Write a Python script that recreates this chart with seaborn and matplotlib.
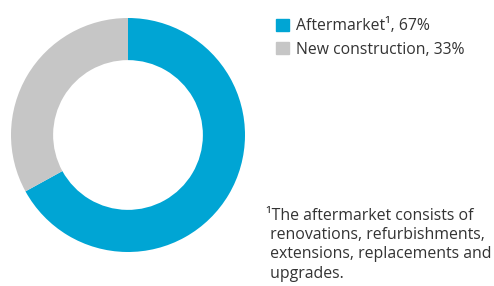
import matplotlib
matplotlib.use("Agg")
import matplotlib.pyplot as plt
import matplotlib.patches as mpatches
import seaborn as sns

# data
segments = ["Aftermarket\u00b9", "New construction"]
shares = [67, 33]
colors = ["#00A5D4", "#C6C6C6"]
footnote = ("\u00b9The aftermarket consists of\n"
            " renovations, refurbishments,\n"
            " extensions, replacements and\n"
            " upgrades.")

sns.set_theme(style="white")
plt.rcParams["font.family"] = ["Open Sans", "DejaVu Sans"]

fig = plt.figure(figsize=(4.94, 2.86), dpi=100)
ax = fig.add_axes([11 / 494, 34 / 286, 234 / 494, 234 / 286])

ax.pie(shares, colors=colors, startangle=90, counterclock=False,
       radius=1.0, wedgeprops=dict(width=0.36, edgecolor="none"))
ax.set_xlim(-1, 1)
ax.set_ylim(-1, 1)
ax.set_aspect("equal")
ax.axis("off")

# legend
handles = [mpatches.Patch(color=c, label=f"{s}, {v}%")
           for s, v, c in zip(segments, shares, colors)]
fig.legend(handles=handles, loc="upper left", bbox_to_anchor=(276 / 494, 1 - 18 / 286),
           frameon=False, fontsize=11.3, handlelength=0.8, handleheight=0.8,
           handletextpad=0.45, labelspacing=0.5, borderaxespad=0, borderpad=0,
           labelcolor="#333333")

fig.text(266 / 494, 1 - 208 / 286, footnote, fontsize=11.4, va="top", ha="left",
         color="#333333", linespacing=1.27)

fig.savefig("out.png", dpi=100)
